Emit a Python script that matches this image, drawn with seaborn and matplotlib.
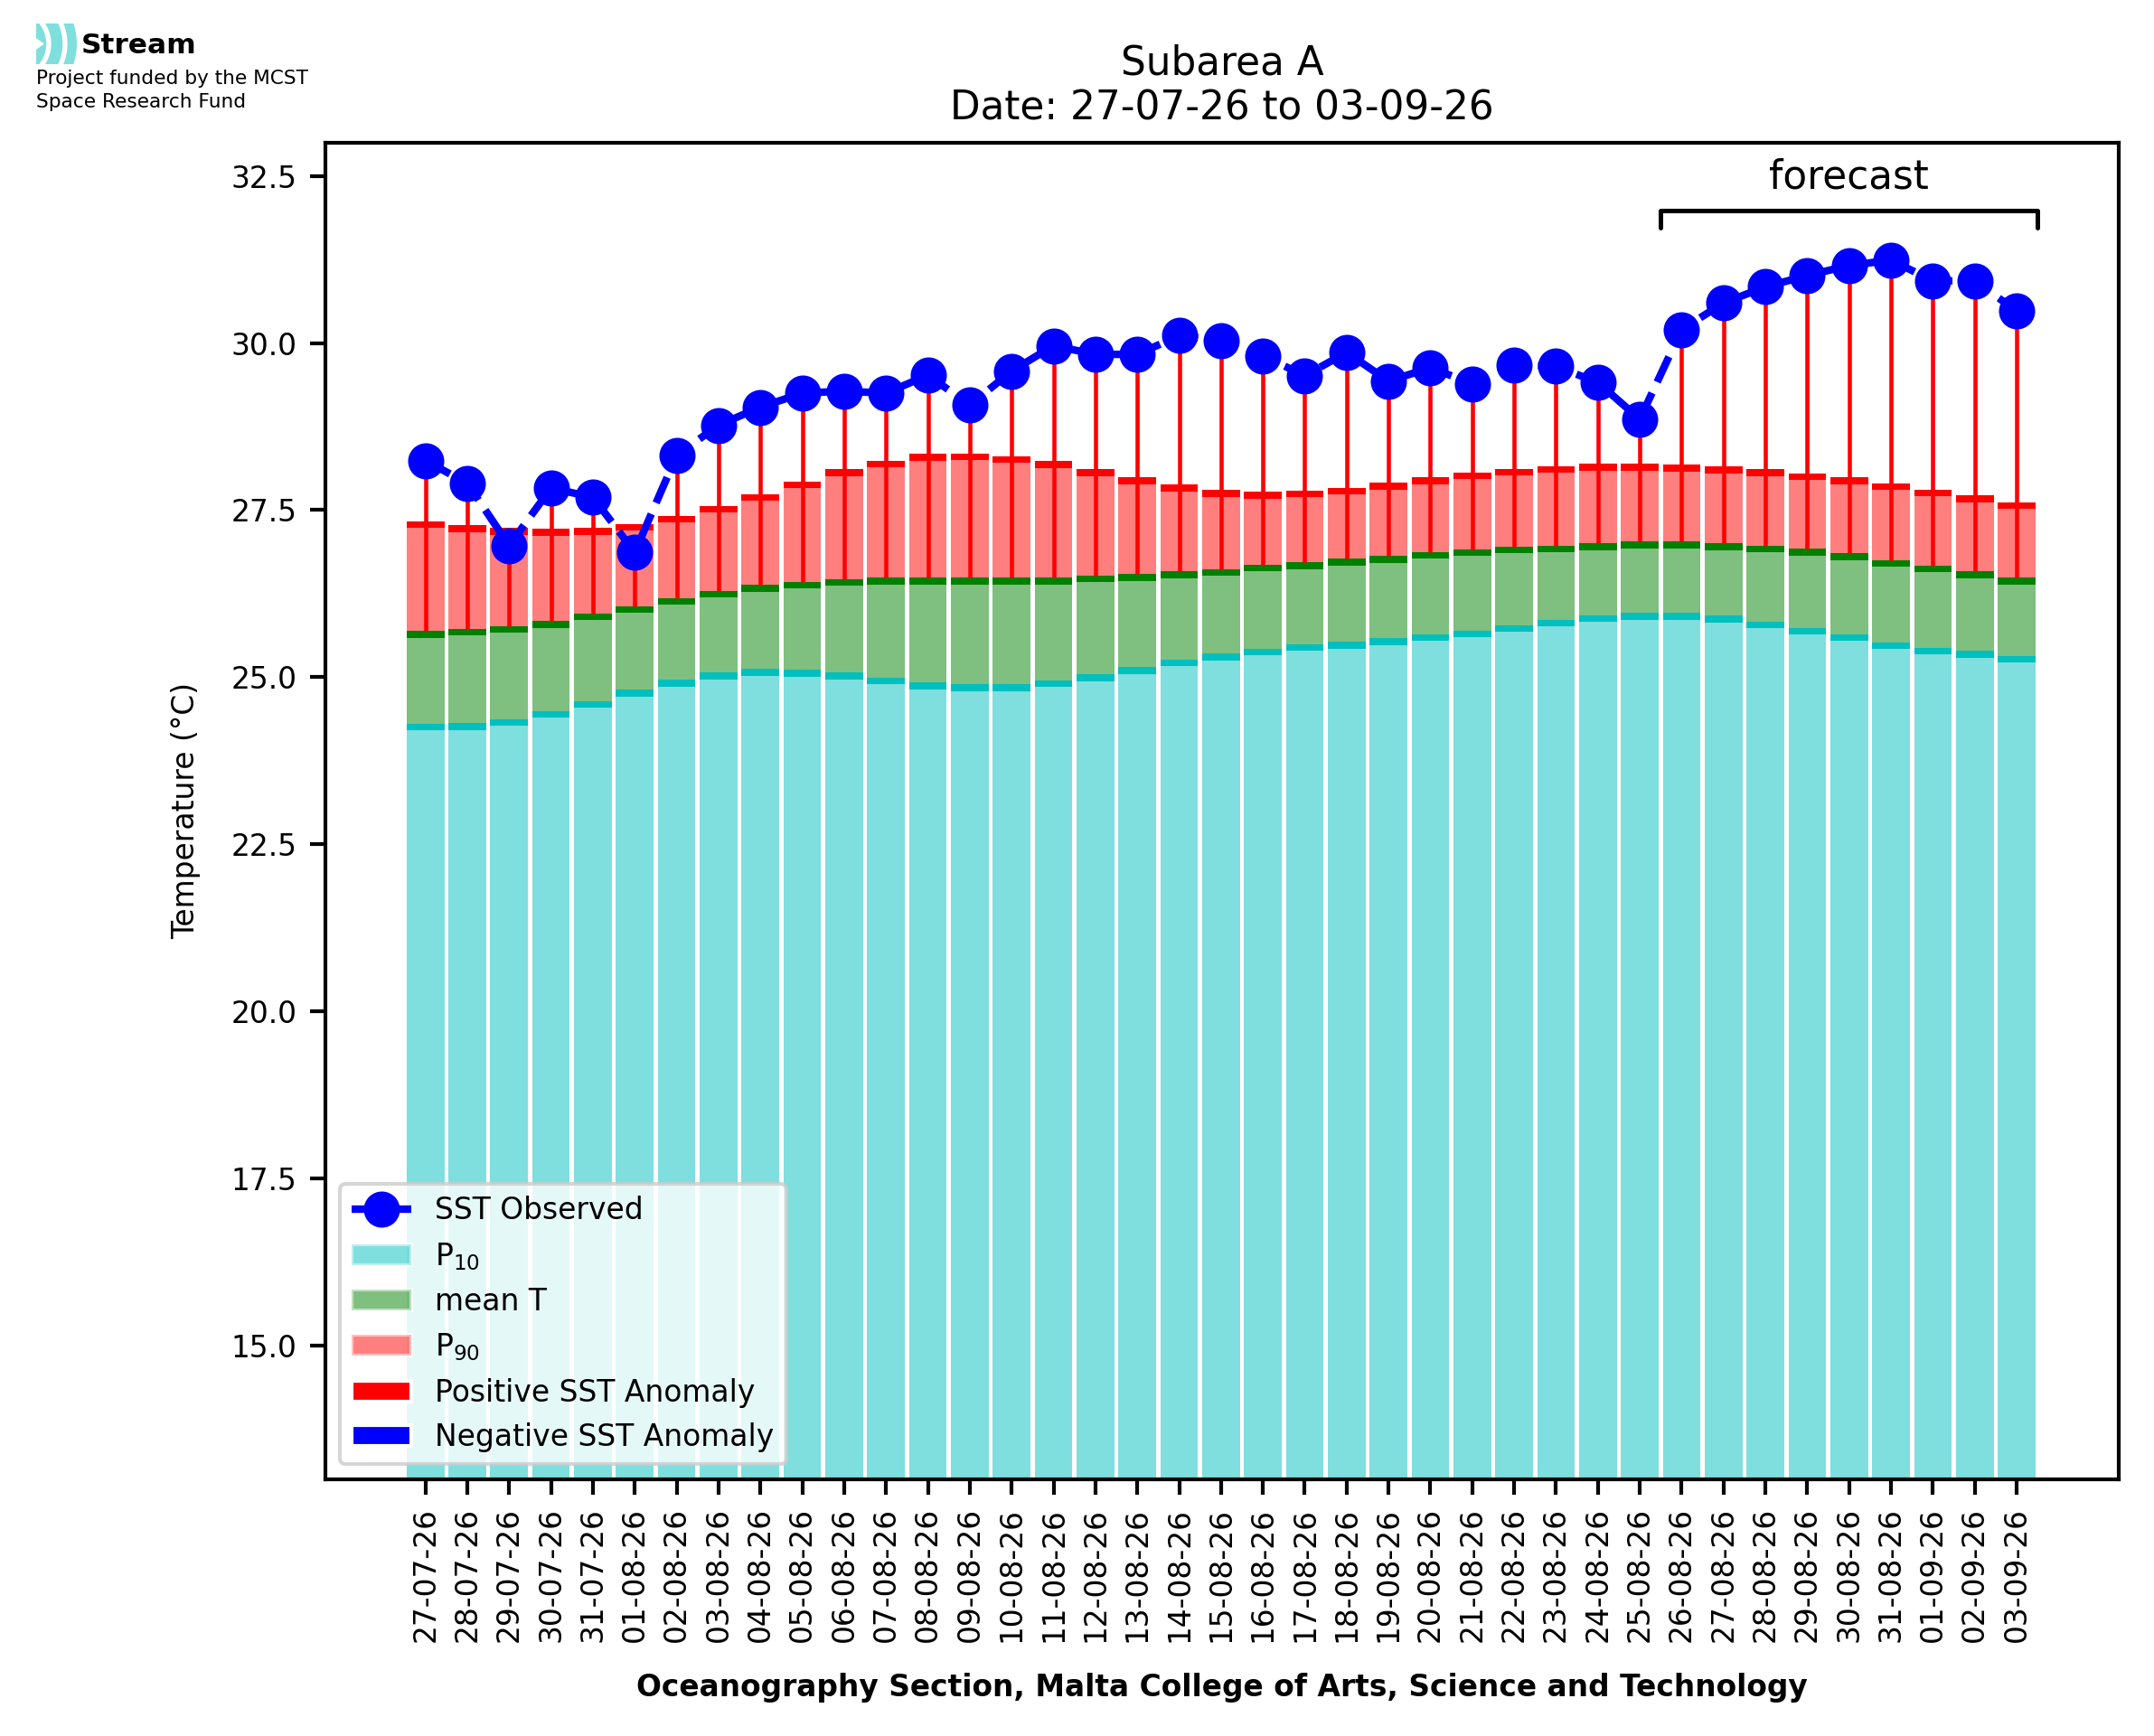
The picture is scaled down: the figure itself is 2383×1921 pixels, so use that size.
# Subarea A - SST observed vs climatology (P10 / mean / P90) with forecast bracket

import seaborn as sns
import matplotlib.pyplot as plt
import numpy as np
from matplotlib.patches import Patch, Wedge, Polygon
from matplotlib.lines import Line2D

# ---- data ----
dates = ['27-07-26', '28-07-26', '29-07-26', '30-07-26', '31-07-26',
         '01-08-26', '02-08-26', '03-08-26', '04-08-26', '05-08-26',
         '06-08-26', '07-08-26', '08-08-26', '09-08-26', '10-08-26',
         '11-08-26', '12-08-26', '13-08-26', '14-08-26', '15-08-26',
         '16-08-26', '17-08-26', '18-08-26', '19-08-26', '20-08-26',
         '21-08-26', '22-08-26', '23-08-26', '24-08-26', '25-08-26',
         '26-08-26', '27-08-26', '28-08-26', '29-08-26', '30-08-26',
         '31-08-26', '01-09-26', '02-09-26', '03-09-26']

sst_observed = [28.24, 27.90, 26.97, 27.83, 27.69, 26.87, 28.32, 28.77, 29.04, 29.25,
                29.28, 29.25, 29.52, 29.07, 29.58, 29.96, 29.83, 29.83, 30.11, 30.04,
                29.81, 29.51, 29.86, 29.43, 29.63, 29.39, 29.67, 29.65, 29.41, 28.86,
                30.20, 30.60, 30.84, 31.01, 31.16, 31.24, 30.93, 30.93, 30.48]

p10 = [24.30, 24.31, 24.37, 24.49, 24.64, 24.81, 24.96, 25.07, 25.12, 25.11,
       25.07, 24.99, 24.92, 24.89, 24.89, 24.95, 25.04, 25.15, 25.26, 25.35,
       25.43, 25.49, 25.53, 25.58, 25.64, 25.70, 25.78, 25.86, 25.93, 25.96,
       25.96, 25.92, 25.83, 25.74, 25.64, 25.52, 25.44, 25.39, 25.32]

mean_t = [25.69, 25.72, 25.76, 25.84, 25.95, 26.06, 26.18, 26.29, 26.38, 26.43,
          26.47, 26.49, 26.49, 26.49, 26.49, 26.49, 26.52, 26.54, 26.58, 26.62,
          26.68, 26.72, 26.77, 26.81, 26.87, 26.91, 26.95, 26.97, 27.00, 27.03,
          27.03, 27.00, 26.97, 26.92, 26.85, 26.75, 26.67, 26.58, 26.49]

p90 = [27.33, 27.27, 27.23, 27.22, 27.23, 27.29, 27.41, 27.56, 27.74, 27.93,
       28.11, 28.24, 28.34, 28.35, 28.31, 28.23, 28.11, 27.99, 27.88, 27.80,
       27.77, 27.79, 27.83, 27.91, 27.99, 28.06, 28.12, 28.16, 28.19, 28.19,
       28.18, 28.15, 28.11, 28.05, 27.99, 27.90, 27.81, 27.72, 27.62]

forecast_start = '26-08-26'

# ---- style ----
sns.set_style("ticks", {"axes.edgecolor": "black", "xtick.color": "black",
                        "ytick.color": "black", "text.color": "black",
                        "axes.labelcolor": "black"})
plt.rcParams['font.family'] = ['DejaVu Sans']
plt.rcParams.update({
    'axes.linewidth': 1.0,
    'xtick.major.size': 4, 'ytick.major.size': 4,
    'xtick.major.width': 1.0, 'ytick.major.width': 1.0,
    'xtick.labelsize': 7.9, 'ytick.labelsize': 7.9,
    'axes.labelsize': 7.9,
})

sst = np.array(sst_observed)
lo = np.array(p10)
mid = np.array(mean_t)
hi = np.array(p90)
n = len(dates)
pos = np.arange(n)
cap = 0.1

fig = plt.figure(figsize=(2383 / 300, 1921 / 300), dpi=300)
ax = fig.add_axes([0.1509, 0.1480, 0.8329, 0.7699])

bar_kw = dict(width=0.9, saturation=1, errorbar=None, linewidth=0,
              edgecolor='none', ax=ax)

# stacked climatology bars, each with a solid cap on top
sns.barplot(x=dates, y=lo, color='c', alpha=0.5, **bar_kw)
sns.barplot(x=dates, y=np.full(n, cap), bottom=lo - cap, color='c', **bar_kw)
sns.barplot(x=dates, y=mid - lo, bottom=lo, color='g', alpha=0.5, **bar_kw)
sns.barplot(x=dates, y=np.full(n, cap), bottom=mid - cap, color='g', **bar_kw)
sns.barplot(x=dates, y=hi - mid, bottom=mid, color='r', alpha=0.5, **bar_kw)
sns.barplot(x=dates, y=np.full(n, cap), bottom=hi - cap, color='r', **bar_kw)

# anomalies relative to the mean
up = sst >= mid
ax.vlines(pos[up], mid[up], sst[up], colors='r', linewidth=1.1, zorder=3)
ax.vlines(pos[~up], sst[~up], mid[~up], colors='b', linewidth=1.1, zorder=3)

# observed SST
sns.lineplot(x=pos, y=sst, color='b', linestyle='--', linewidth=2,
             marker='o', markersize=8.6, markeredgecolor='b',
             markeredgewidth=1, ax=ax, zorder=4)

# forecast bracket
x0 = dates.index(forecast_start) - 0.5
x1 = n - 0.5
ax.plot([x0, x0, x1, x1], [31.72, 31.98, 31.98, 31.72], color='k', lw=1.2)
ax.text((x0 + x1) / 2, 32.31, 'forecast', ha='center', va='baseline',
        fontsize=10.5)

m = 0.05 * (x1 + 0.45)
ax.set_xlim(-0.45 - m, x1 + m)
ax.set_ylim(13, 33)
ax.set_yticks(np.arange(15, 33, 2.5))
ax.set_xticks(pos)
ax.set_xticklabels(dates, rotation=90)

ax.set_title('Subarea A\nDate: 27-07-26 to 03-09-26', fontsize=10.5)
ax.set_xlabel('Oceanography Section, Malta College of Arts, Science and Technology',
              fontweight='bold', labelpad=8)
ax.set_ylabel('Temperature (°C)', labelpad=8)

handles = [
    Line2D([], [], color='b', linestyle='--', linewidth=2, marker='o',
           markersize=8.6, markeredgecolor='b'),
    Patch(facecolor='c', alpha=0.5),
    Patch(facecolor='g', alpha=0.5),
    Patch(facecolor='r', alpha=0.5),
    Patch(facecolor='r'),
    Patch(facecolor='b'),
]
labels = ['SST Observed', 'P$_{10}$', 'mean T', 'P$_{90}$',
          'Positive SST Anomaly', 'Negative SST Anomaly']
ax.legend(handles, labels, loc='lower left', fontsize=7.9)

# ---- logo block (top left) ----
logo = fig.add_axes([40 / 2383, 1 - 71 / 1921, 45 / 2383, 45 / 1921])
logo.set_xlim(0, 1)
logo.set_ylim(0, 1)
logo.axis('off')
teal = '#7fdfdc'
c = (-0.55, 0.5)
logo.add_patch(Wedge(c, 1.55, -90, 90, width=0.23, color=teal, lw=0))
logo.add_patch(Wedge(c, 1.20, -90, 90, width=0.28, color=teal, lw=0))
logo.add_patch(Wedge(c, 0.80, -90, 90, color=teal, lw=0))
logo.add_patch(Polygon([(0, 0.64), (0.2, 0.5), (0, 0.36)], closed=True,
                       color='white', lw=0))

fig.text(90 / 2383, 1 - 59 / 1921, 'Stream', fontsize=7.5, fontweight='bold',
         va='baseline', ha='left')
fig.text(40 / 2383, 1 - 92.7 / 1921, 'Project funded by the MCST', fontsize=5.2,
         va='baseline', ha='left')
fig.text(40 / 2383, 1 - 119.3 / 1921, 'Space Research Fund', fontsize=5.2,
         va='baseline', ha='left')

fig.savefig('out.png', dpi=300)
print("Chart saved as out.png")
